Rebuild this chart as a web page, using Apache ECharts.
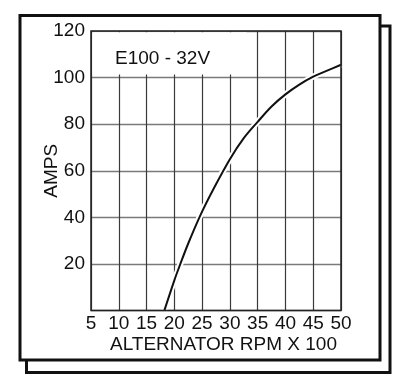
<!DOCTYPE html>
<html>
<head>
<meta charset="utf-8">
<script src="https://cdn.jsdelivr.net/npm/echarts@6/dist/echarts.min.js"></script>
<style>
html,body{margin:0;padding:0;background:#fff;}
#chart{width:410px;height:392px;}
</style>
</head>
<body>
<div id="chart"></div>
<script>
// Data
const chartTitle = 'E100 - 32V';
const xAxisName = 'ALTERNATOR RPM X 100';
const yAxisName = 'AMPS';
const rpm  = [18.2, 20, 21, 22.5, 24.7, 27, 30, 32.5, 35, 37.5, 40, 42.5, 45, 47.5, 50];
const amps = [0, 13, 19.5, 28.8, 41, 52, 65, 74, 81, 87.6, 92.8, 97, 100.4, 103, 105.5];
const xMin = 5, xMax = 50, xStep = 5;
const yMin = 0, yMax = 120, yStep = 20;
// label box area (data coords) where the grid is blanked out
const labelBoxX = [5.3, 33];
const labelBoxY = [101.3, 119.5];

const curve = rpm.map((r, i) => [r, amps[i]]);
const FONT = '"Liberation Sans", Arial, sans-serif';

const chart = echarts.init(document.getElementById('chart'), null, {renderer: 'canvas'});
chart.setOption({
  backgroundColor: '#fff',
  animation: false,
  textStyle: {fontFamily: FONT},
  title: {
    text: chartTitle,
    left: 110, top: 44,
    textStyle: {fontFamily: FONT, fontSize: 19, fontWeight: 'normal', color: '#111'}
  },
  graphic: [
    {type: 'rect', z: -10, shape: {x: 26.5, y: 26, width: 363.5, height: 346.5},
     style: {fill: '#fff', stroke: '#111', lineWidth: 3}},
    {type: 'rect', z: -9, shape: {x: 20, y: 15.5, width: 360, height: 344.5},
     style: {fill: '#fff', stroke: '#111', lineWidth: 3}}
  ],
  grid: {
    left: 91, right: 69, top: 31, bottom: 81.4,
    show: true, borderColor: '#222', borderWidth: 1.5, z: 3,
    containLabel: false
  },
  xAxis: {
    type: 'value', min: xMin, max: xMax, interval: xStep,
    name: xAxisName, nameLocation: 'middle', nameGap: 25, nameMoveOverlap: false,
    nameTextStyle: {fontFamily: FONT, fontSize: 19, color: '#111', padding: [0, 0, 0, 15]},
    axisLine: {show: false},
    axisTick: {show: false},
    axisLabel: {fontFamily: FONT, fontSize: 19, color: '#111', margin: 4, interval: 0,
                showMinLabel: true, showMaxLabel: true},
    splitLine: {show: true, lineStyle: {color: '#3a3a3a', width: 1.2}}
  },
  yAxis: {
    type: 'value', min: yMin, max: yMax, interval: yStep,
    name: yAxisName, nameLocation: 'middle', nameGap: 30, nameRotate: 90, nameMoveOverlap: false,
    nameTextStyle: {fontFamily: FONT, fontSize: 19, color: '#111'},
    axisLine: {show: false},
    axisTick: {show: false},
    axisLabel: {fontFamily: FONT, fontSize: 19, color: '#111', margin: 6,
                formatter: v => (v === 0 ? '' : String(v))},
    splitLine: {show: true, lineStyle: {color: '#7a7a7a', width: 1.4}}
  },
  series: [
    {
      type: 'line', z: 1, data: curve, smooth: 0.35, symbol: 'none', silent: true,
      lineStyle: {color: '#fff', width: 6},
      markArea: {
        silent: true,
        itemStyle: {color: '#fff'},
        data: [[{coord: [labelBoxX[0], labelBoxY[0]]}, {coord: [labelBoxX[1], labelBoxY[1]]}]]
      }
    },
    {
      type: 'line', z: 2, data: curve, smooth: 0.35, symbol: 'none',
      lineStyle: {color: '#111', width: 2}
    }
  ]
});
</script>
</body>
</html>
